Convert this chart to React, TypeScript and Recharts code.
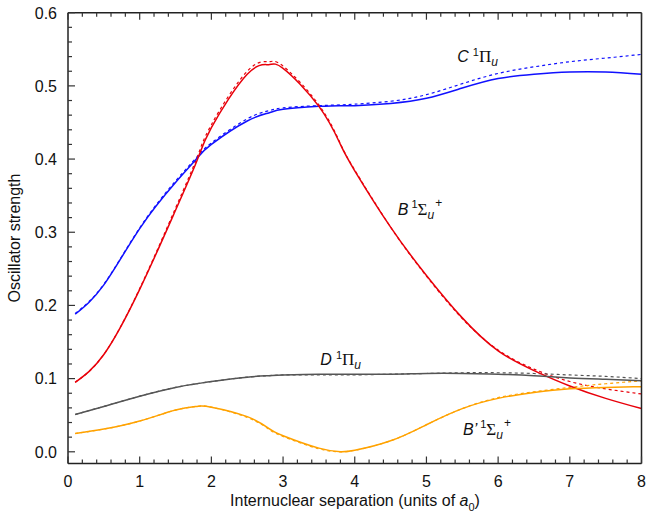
import React from 'react';
import { LineChart, Line, XAxis, YAxis, ReferenceDot } from 'recharts';

// ── Data ──────────────────────────────────────────────────────────────────────

const R = [0.1, 0.5, 1, 1.5, 1.8, 2, 2.5, 2.8, 3, 3.5, 3.8, 4, 4.5, 5, 5.5, 6, 6.5, 7, 7.5, 8];

// C 1Πu
const cSolid  = [0.188, 0.228, 0.305, 0.368, 0.401, 0.420, 0.452, 0.463, 0.468, 0.472, 0.473, 0.473, 0.476, 0.483, 0.497, 0.510, 0.516, 0.519, 0.519, 0.516];
const cDashed = [0.189, 0.229, 0.306, 0.370, 0.403, 0.422, 0.455, 0.466, 0.470, 0.473, 0.474, 0.475, 0.479, 0.488, 0.503, 0.517, 0.526, 0.533, 0.538, 0.543];
// B 1Σu+
const bSolid  = [0.095, 0.133, 0.222, 0.330, 0.398, 0.443, 0.516, 0.529, 0.524, 0.472, 0.420, 0.384, 0.307, 0.241, 0.183, 0.138, 0.111, 0.090, 0.073, 0.059];
const bDashed = [0.095, 0.133, 0.223, 0.333, 0.402, 0.447, 0.520, 0.533, 0.527, 0.474, 0.421, 0.385, 0.307, 0.240, 0.182, 0.139, 0.113, 0.096, 0.086, 0.079];
// D 1Πu
const dSolid  = [0.051, 0.062, 0.076, 0.088, 0.093, 0.096, 0.102, 0.104, 0.105, 0.106, 0.106, 0.106, 0.106, 0.107, 0.107, 0.106, 0.104, 0.101, 0.099, 0.097];
const dDashed = [0.051, 0.062, 0.076, 0.088, 0.093, 0.096, 0.102, 0.104, 0.105, 0.105, 0.105, 0.105, 0.106, 0.107, 0.108, 0.108, 0.107, 0.105, 0.103, 0.100];
// B' 1Σu+
const bpSolid  = [0.025, 0.031, 0.042, 0.057, 0.062, 0.061, 0.048, 0.032, 0.022, 0.005, 0.000, 0.002, 0.015, 0.037, 0.059, 0.073, 0.081, 0.086, 0.088, 0.089];
const bpDashed = [0.025, 0.031, 0.042, 0.057, 0.062, 0.061, 0.047, 0.031, 0.021, 0.004, 0.000, 0.002, 0.015, 0.037, 0.059, 0.074, 0.082, 0.088, 0.093, 0.097];

const xLabels = ['0', '1', '2', '3', '4', '5', '6', '7', '8'];
const yLabels = ['0.0', '0.1', '0.2', '0.3', '0.4', '0.5', '0.6'];

const xMinor = Array.from({ length: 41 }, (_, i) => i * 0.2);
const yMinor = Array.from({ length: 31 }, (_, i) => i * 0.02);

const data = R.map((r, i) => ({
  r,
  cS: cSolid[i], cD: cDashed[i],
  bS: bSolid[i], bD: bDashed[i],
  dS: dSolid[i], dD: dDashed[i],
  bpS: bpSolid[i], bpD: bpDashed[i],
}));

// ── Styles ────────────────────────────────────────────────────────────────────

const FONT = "'Liberation Sans', Arial, Helvetica, sans-serif";
const GREEK = "'Liberation Serif', 'Times New Roman', serif";
const INK = '#111';
const FRAME = { stroke: '#222', strokeWidth: 1.5 };
const TICK = '#333';

const BLUE = '#1010ff';
const RED = '#e8000a';
const GRAY = '#555555';
const ORANGE = '#ffa200';

const near = (v: number, step: number) => Math.abs(v / step - Math.round(v / step)) < 1e-6;

// ── Tick renderers (inward ticks, minor + major) ──────────────────────────────

function BottomTick({ x, y, payload }: any) {
  const v = payload.value as number;
  const major = near(v, 1);
  return (
    <g>
      <line x1={x} x2={x} y1={y} y2={y - (major ? 7 : 4)} stroke={TICK} strokeWidth={1.2} />
      {major && (
        <text x={x} y={y + 23} textAnchor="middle" fontFamily={FONT} fontSize={16} fill={INK}>
          {xLabels[Math.round(v)]}
        </text>
      )}
    </g>
  );
}

function TopTick({ x, y, payload }: any) {
  const major = near(payload.value, 1);
  return <line x1={x} x2={x} y1={y} y2={y + (major ? 7 : 4)} stroke={TICK} strokeWidth={1.2} />;
}

function LeftTick({ x, y, payload }: any) {
  const v = payload.value as number;
  const major = near(v, 0.1);
  return (
    <g>
      <line x1={x} x2={x + (major ? 7 : 4)} y1={y} y2={y} stroke={TICK} strokeWidth={1.2} />
      {major && (
        <text x={x - 11} y={y + 5.8} textAnchor="end" fontFamily={FONT} fontSize={16} fill={INK}>
          {yLabels[Math.round(v * 10)]}
        </text>
      )}
    </g>
  );
}

function RightTick({ x, y, payload }: any) {
  const major = near(payload.value, 0.1);
  return <line x1={x} x2={x - (major ? 7 : 4)} y1={y} y2={y} stroke={TICK} strokeWidth={1.2} />;
}

// ── State labels ──────────────────────────────────────────────────────────────

function PiLabel({ cx, cy, letter }: any) {
  return (
    <text x={cx} y={cy} fontFamily={FONT} fontSize={16} fill={INK}>
      <tspan fontStyle="italic">{letter}</tspan>
      <tspan dx={4} dy={-6} fontSize={11}>1</tspan>
      <tspan dy={6} fontFamily={GREEK} fontSize={17}>Π</tspan>
      <tspan dy={4} fontSize={12} fontStyle="italic">u</tspan>
    </text>
  );
}

function SigmaLabel({ cx, cy, letter }: any) {
  return (
    <text x={cx} y={cy} fontFamily={FONT} fontSize={16} fill={INK}>
      <tspan fontStyle="italic">{letter}</tspan>
      <tspan dx={3} dy={-7} fontSize={11}>1</tspan>
      <tspan dy={7} fontFamily={GREEK} fontSize={17}>Σ</tspan>
      <tspan dy={4} fontSize={12} fontStyle="italic">u</tspan>
      <tspan dx={1} dy={-12} fontSize={12}>+</tspan>
    </text>
  );
}

// ── Chart ─────────────────────────────────────────────────────────────────────

export default function App() {
  const line = (key: string, color: string, dashed: boolean) => (
    <Line
      key={key}
      xAxisId="b" yAxisId="l"
      type="natural" dataKey={key}
      stroke={color}
      strokeWidth={dashed ? 1.2 : 1.5}
      strokeDasharray={dashed ? '3 3' : undefined}
      dot={false} activeDot={false} isAnimationActive={false}
    />
  );

  return (
    <div style={{ position: 'absolute', left: 0, top: 0, width: 647, height: 520, background: '#fff' }}>
      <LineChart width={647} height={520} data={data} margin={{ top: 0, right: 0, bottom: 0, left: 0 }}>
        <XAxis
          xAxisId="b" dataKey="r" type="number" domain={[0, 8]}
          ticks={xMinor} interval={0} height={56.5}
          tickSize={0} tickMargin={0} tickLine={false} axisLine={FRAME}
          tick={<BottomTick />}
          label={{
            content: () => (
              <text x={355} y={506} textAnchor="middle" fontFamily={FONT} fontSize={16} fill={INK}>
                Internuclear separation (units of <tspan fontStyle="italic">a</tspan>
                <tspan dy={5} fontSize={11}>0</tspan>
                <tspan dy={-5}>)</tspan>
              </text>
            ),
          }}
        />
        <XAxis
          xAxisId="t" orientation="top" dataKey="r" type="number" domain={[0, 8]}
          ticks={xMinor} interval={0} height={12.7}
          tickSize={0} tickMargin={0} tickLine={false} axisLine={FRAME}
          tick={<TopTick />}
        />
        <YAxis
          yAxisId="l" type="number" domain={[-0.016, 0.6]}
          ticks={yMinor} interval={0} width={68}
          tickSize={0} tickMargin={0} tickLine={false} axisLine={FRAME}
          tick={<LeftTick />}
          label={{
            content: () => (
              <text x={20} y={238} transform="rotate(-90 20 238)" textAnchor="middle"
                fontFamily={FONT} fontSize={16} fill={INK}>
                Oscillator strength
              </text>
            ),
          }}
        />
        <YAxis
          yAxisId="r" orientation="right" type="number" domain={[-0.016, 0.6]}
          ticks={yMinor} interval={0} width={5.5}
          tickSize={0} tickMargin={0} tickLine={false} axisLine={FRAME}
          tick={<RightTick />}
        />

        {line('cD', BLUE, true)}
        {line('bD', RED, true)}
        {line('dD', GRAY, true)}
        {line('bpD', ORANGE, true)}
        {line('cS', BLUE, false)}
        {line('bS', RED, false)}
        {line('dS', GRAY, false)}
        {line('bpS', ORANGE, false)}

        <ReferenceDot xAxisId="b" yAxisId="l" x={5.43} y={0.533} r={0}
          shape={(p: any) => <PiLabel {...p} letter="C" />} />
        <ReferenceDot xAxisId="b" yAxisId="l" x={4.6} y={0.3235} r={0}
          shape={(p: any) => <SigmaLabel {...p} letter="B" />} />
        <ReferenceDot xAxisId="b" yAxisId="l" x={3.52} y={0.1186} r={0}
          shape={(p: any) => <PiLabel {...p} letter="D" />} />
        <ReferenceDot xAxisId="b" yAxisId="l" x={5.51} y={0.0228} r={0}
          shape={(p: any) => <SigmaLabel {...p} letter="B’" />} />
      </LineChart>
    </div>
  );
}
